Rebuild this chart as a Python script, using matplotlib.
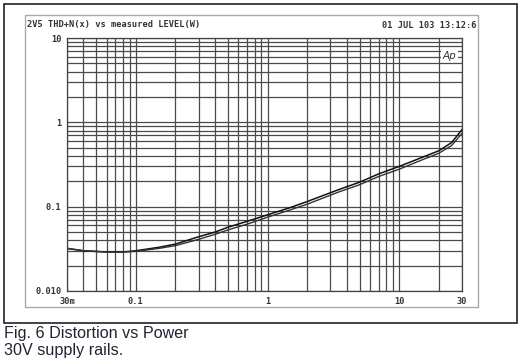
import matplotlib
matplotlib.use("Agg")
from matplotlib import pyplot as plt
from matplotlib.patches import Rectangle

# output power (W) and THD+N (%) for the two channels
power = [0.03, 0.04, 0.06, 0.08, 0.1, 0.15, 0.2, 0.3, 0.4, 0.5, 0.7, 1.0,
         1.5, 2.0, 3.5, 5.0, 7.0, 10.0, 15.0, 20.0, 25.0, 30.0]
thd_a = [0.032, 0.030, 0.029, 0.029, 0.030, 0.033, 0.036, 0.044, 0.050, 0.057, 0.067, 0.080,
         0.098, 0.115, 0.160, 0.195, 0.245, 0.300, 0.385, 0.460, 0.575, 0.82]
thd_b = [0.032, 0.030, 0.029, 0.029, 0.0295, 0.032, 0.0345, 0.041, 0.047, 0.053, 0.062, 0.075,
         0.092, 0.107, 0.150, 0.182, 0.228, 0.278, 0.360, 0.430, 0.530, 0.74]

xticks = [0.03, 0.1, 1, 10, 30]
xlabels = ["30m", "0.1", "1", "10", "30"]
yticks = [0.01, 0.1, 1, 10]
ylabels = ["0.010", "0.1", "1", "10"]

title_left = "2V5 THD+N(x) vs measured LEVEL(W)"
title_right = "01 JUL 103 13:12:6"
caption = "Fig. 6 Distortion vs Power\n30V supply rails."

W, H = 520, 364
fig = plt.figure(figsize=(W / 100, H / 100), dpi=100)


def px(x, y):
    return x / W, 1 - y / H


# outer black frame and grey plot frame
fig.patches.append(Rectangle(px(4, 323), 513 / W, 319 / H, transform=fig.transFigure,
                             fill=False, edgecolor="#222222", linewidth=1.2))
fig.patches.append(Rectangle(px(25, 307), 453 / W, 292 / H, transform=fig.transFigure,
                             fill=False, edgecolor="#aaaaaa", linewidth=1.0))

mono = {"family": "DejaVu Sans Mono", "weight": "bold", "size": 6.2, "color": "#333333"}

ax = fig.add_axes([67 / W, 1 - 291 / H, 395 / W, 253 / H])
ax.plot(power, thd_a, color="#111111", linewidth=1.1)
ax.plot(power, thd_b, color="#333333", linewidth=1.0)
ax.set_xscale("log")
ax.set_yscale("log")
ax.set_xlim(0.03, 30)
ax.set_ylim(0.01, 10)
ax.set_xticks(xticks)
ax.set_xticklabels(xlabels, fontdict=mono)
ax.set_yticks(yticks)
ax.set_yticklabels(ylabels, fontdict=mono)
ax.tick_params(which="both", length=0)
ax.tick_params(axis="x", pad=4)
ax.tick_params(axis="y", pad=4)
ax.grid(True, which="both", color="#4a4a4a", linewidth=0.9)
for s in ax.spines.values():
    s.set_color("#444444")
    s.set_linewidth(0.9)

ax.text(0.985, 0.95, "Ap", transform=ax.transAxes, ha="right", va="top",
        fontsize=7.5, style="italic", color="#333333",
        bbox=dict(boxstyle="square,pad=0.15", facecolor="white", edgecolor="none"))

fig.text(*px(27, 25), title_left, ha="left", va="center", fontdict=mono)
fig.text(*px(477, 25), title_right, ha="right", va="center", fontdict=mono)

fig.text(*px(4, 326), caption, ha="left", va="top", family="Liberation Sans",
         fontsize=11.6, color="#222233", linespacing=1.2)

fig.savefig("out.png", dpi=100)
